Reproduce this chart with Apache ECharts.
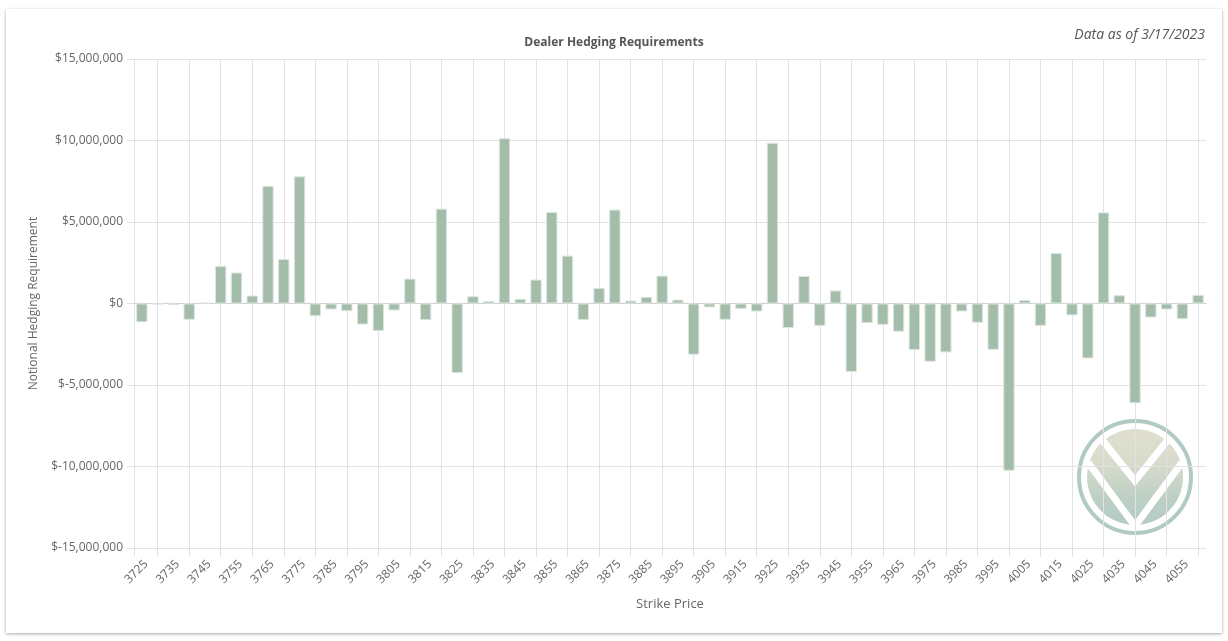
<!DOCTYPE html>
<html>
<head>
<meta charset="utf-8">
<script src="https://cdn.jsdelivr.net/npm/echarts@6/dist/echarts.min.js"></script>
<style>
html, body { margin: 0; padding: 0; background: #fff; }
.card {
  position: absolute; left: 6px; top: 9px; width: 1216px; height: 624px;
  background: #fff; box-shadow: 0 1px 3px rgba(0,0,0,0.35);
}
#chart { position: absolute; left: 0; top: 0; width: 1228px; height: 641px; }
</style>
</head>
<body>
<div class="card"></div>
<div id="chart"></div>
<script>
// strikes 3725 .. 4060, step 5
const strikes = [3725,3730,3735,3740,3745,3750,3755,3760,3765,3770,3775,3780,3785,3790,3795,3800,3805,3810,3815,3820,3825,3830,3835,3840,3845,3850,3855,3860,3865,3870,3875,3880,3885,3890,3895,3900,3905,3910,3915,3920,3925,3930,3935,3940,3945,3950,3955,3960,3965,3970,3975,3980,3985,3990,3995,4000,4005,4010,4015,4020,4025,4030,4035,4040,4045,4050,4055,4060];
// notional hedging requirement, in millions of dollars
const hedgeMillions = [-1.15,-0.06,-0.1,-1.0,0.05,2.31,1.9,0.49,7.22,2.73,7.8,-0.78,-0.37,-0.47,-1.29,-1.69,-0.43,1.53,-1.02,5.82,-4.27,0.45,0.16,10.14,0.29,1.47,5.61,2.94,-1.02,0.96,5.76,0.18,0.41,1.71,0.24,-3.14,-0.24,-1.0,-0.33,-0.49,9.86,-1.51,1.69,-1.37,0.8,-4.2,-1.2,-1.31,-1.73,-2.86,-3.57,-3.0,-0.49,-1.18,-2.84,-10.26,0.22,-1.37,3.1,-0.73,-3.37,5.59,0.51,-6.12,-0.86,-0.37,-0.96,0.53];
const yMin = -15000000, yMax = 15000000, yStep = 5000000;

const font = "'Open Sans', sans-serif";
const gridColor = "#e2e2e2";

// helper axis in half-category steps, used only for the grid lines between label pairs
const halfSteps = Array.from({ length: strikes.length * 2 + 1 }, (_, i) => i);
const gridTick = (i) => i === 0 || i % 4 === 3;

// watermark logo centre
const cx = 1135, cy = 477;

const chart = echarts.init(document.getElementById("chart"));
chart.setOption({
  backgroundColor: "transparent",
  animation: false,
  textStyle: { fontFamily: font },
  title: [
    {
      text: "Dealer Hedging Requirements",
      left: "center",
      top: 32,
      textStyle: { fontSize: 12, fontWeight: "bold", color: "#555", fontFamily: font }
    },
    {
      text: "Data as of 3/17/2023",
      right: 18,
      top: 23,
      textStyle: { fontSize: 14, fontStyle: "italic", fontWeight: "normal", color: "#555", fontFamily: font }
    }
  ],
  grid: { left: 134, right: 22, top: 59, bottom: 93 },
  xAxis: [
    {
      type: "category",
      data: strikes,
      name: "Strike Price",
      nameLocation: "middle",
      nameGap: 50,
      nameTextStyle: { fontSize: 13, color: "#666" },
      axisLine: { lineStyle: { color: "#d0d0d0" } },
      axisTick: { show: false },
      splitLine: { show: false },
      axisLabel: { interval: 1, rotate: 45, margin: 10, verticalAlign: "top", fontSize: 12, color: "#666" }
    },
    {
      type: "category",
      data: halfSteps,
      boundaryGap: false,
      position: "bottom",
      axisLine: { show: false },
      axisLabel: { show: false },
      axisTick: { show: true, interval: gridTick, length: 9, lineStyle: { color: gridColor } },
      splitLine: { show: true, interval: gridTick, lineStyle: { color: gridColor } }
    }
  ],
  yAxis: {
    type: "value",
    min: yMin,
    max: yMax,
    interval: yStep,
    name: "Notional Hedging Requirement",
    nameLocation: "middle",
    nameGap: 94,
    nameTextStyle: { fontSize: 12, color: "#666" },
    axisLine: { show: true, lineStyle: { color: gridColor } },
    axisTick: { show: true, length: 7, lineStyle: { color: gridColor } },
    splitLine: { lineStyle: { color: gridColor } },
    axisLabel: {
      margin: 11,
      fontSize: 12,
      color: "#666",
      formatter: (v) => "$" + v.toLocaleString("en-US")
    }
  },
  series: [
    {
      type: "bar",
      xAxisIndex: 0,
      data: hedgeMillions.map((v) => Math.round(v * 1000000)),
      barWidth: "72%",
      itemStyle: { color: "#a4bdab", borderColor: "#dbe6de", borderWidth: 1 }
    }
  ],
  graphic: [
    {
      type: "group",
      silent: true,
      z: 100,
      children: [
        {
          type: "circle",
          shape: { cx: cx, cy: cy, r: 56 },
          style: { fill: "none", stroke: "#a9c5bc", lineWidth: 4, opacity: 0.9 }
        },
        {
          type: "circle",
          shape: { cx: cx, cy: cy, r: 48 },
          style: {
            opacity: 0.88,
            fill: new echarts.graphic.LinearGradient(0, 0, 0, 1, [
              { offset: 0, color: "#dbdac7" },
              { offset: 0.35, color: "#d2d6c4" },
              { offset: 0.75, color: "#b2c8bc" },
              { offset: 1, color: "#a8c4bb" }
            ])
          }
        },
        {
          type: "polyline",
          shape: { points: [[cx - 34, cy - 38.5], [cx, cy + 4], [cx + 34, cy - 38.5]] },
          style: { fill: "none", stroke: "#fff", lineWidth: 7 }
        },
        {
          type: "polyline",
          shape: { points: [[cx - 47, cy - 14.7], [cx, cy + 49], [cx + 47, cy - 14.7]] },
          style: { fill: "none", stroke: "#fff", lineWidth: 7 }
        }
      ]
    }
  ]
});
</script>
</body>
</html>
